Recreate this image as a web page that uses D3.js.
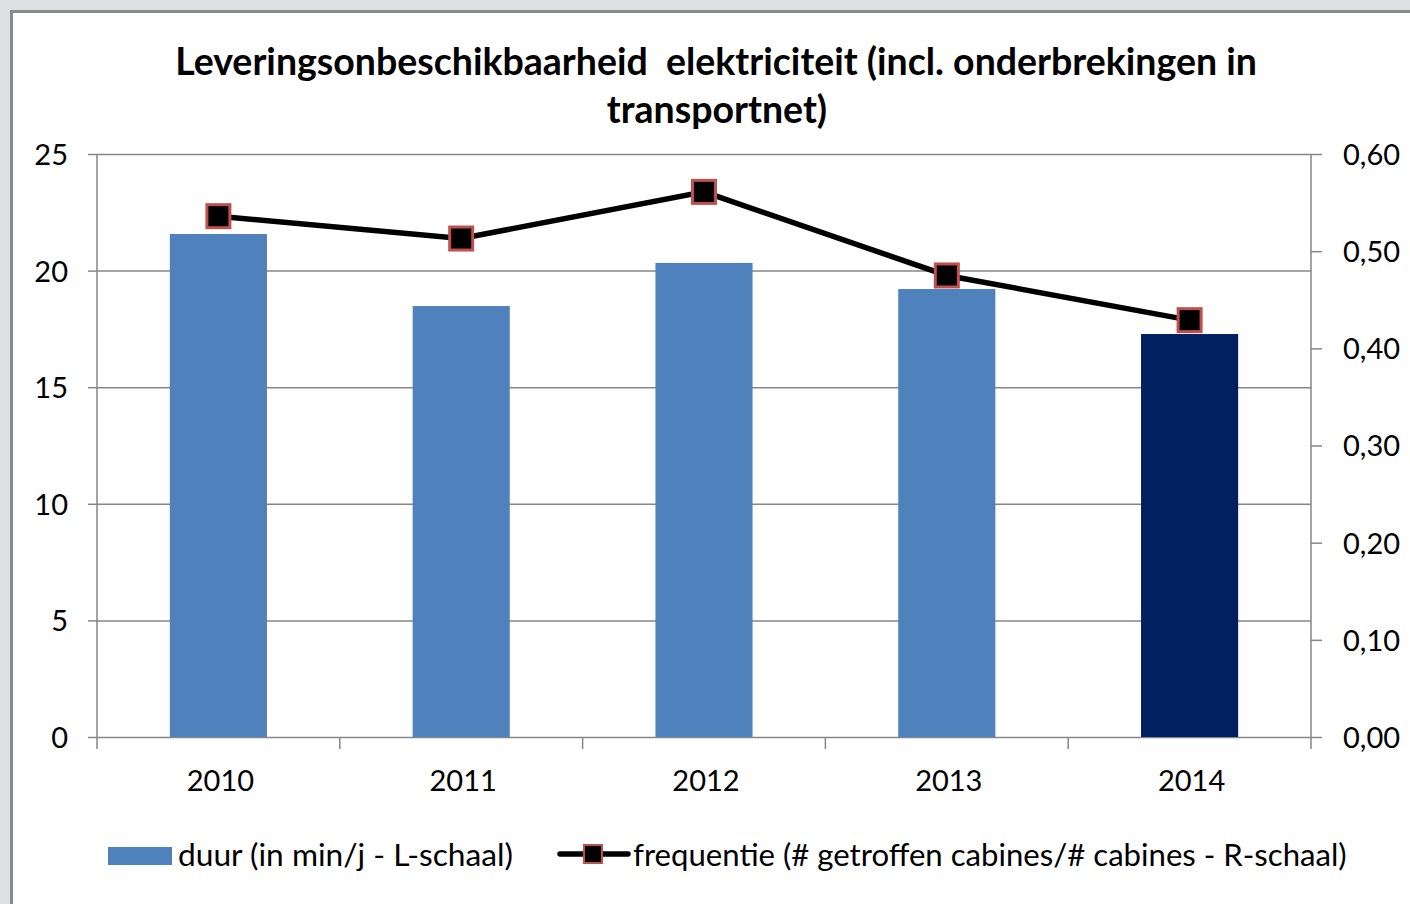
<!DOCTYPE html>
<html>
<head>
<meta charset="utf-8">
<script src="https://cdn.jsdelivr.net/npm/d3@7"></script>
<style>
  html, body { margin: 0; padding: 0; background: #dfe0e2; }
  svg { display: block; }
  text { font-family: Lato, "Open Sans", sans-serif; fill: #000; }
</style>
</head>
<body>
<div id="chart"></div>
<script>
// data
var years = ["2010", "2011", "2012", "2013", "2014"];
var duur = [21.57, 18.48, 20.33, 19.21, 17.28];
var frequentie = [0.536, 0.513, 0.561, 0.475, 0.429];
var leftTicks = [0, 5, 10, 15, 20, 25];
var rightTicks = [0, 0.1, 0.2, 0.3, 0.4, 0.5, 0.6];
var titleLines = ["Leveringsonbeschikbaarheid  elektriciteit (incl. onderbrekingen in", "transportnet)"];
var legendLabels = ["duur (in min/j - L-schaal)", "frequentie (# getroffen cabines/# cabines - R-schaal)"];

var W = 1410, H = 904;
var plot = { left: 97, right: 1311, top: 154, bottom: 737 };

var svg = d3.select("#chart").append("svg")
    .attr("width", W)
    .attr("height", H);

// panel
svg.append("rect")
    .attr("x", 11.5).attr("y", 11.5)
    .attr("width", W).attr("height", H)
    .attr("fill", "#fff")
    .attr("stroke", "#8a8a8a")
    .attr("stroke-width", 3);

// fit text to a measured width
function fit(sel, target) {
    var w = sel.node().getComputedTextLength();
    var fs = parseFloat(sel.attr("font-size"));
    sel.attr("font-size", fs * target / w);
}

// title
var t1 = svg.append("text")
    .attr("x", 716).attr("y", 75)
    .attr("text-anchor", "middle")
    .attr("font-weight", "bold")
    .attr("font-size", 30)
    .style("white-space", "pre")
    .text(titleLines[0]);
fit(t1, 1082);
var t2 = svg.append("text")
    .attr("x", 717).attr("y", 123)
    .attr("text-anchor", "middle")
    .attr("font-weight", "bold")
    .attr("font-size", t1.attr("font-size"))
    .text(titleLines[1]);

var x = d3.scaleBand()
    .domain(years)
    .range([plot.left, plot.right])
    .padding(0);

var yL = d3.scaleLinear()
    .domain([0, 25])
    .range([plot.bottom, plot.top]);

var yR = d3.scaleLinear()
    .domain([0, 0.6])
    .range([plot.bottom, plot.top]);

var gridColor = "#868686";

// gridlines
var grid = svg.append("g")
    .attr("transform", "translate(" + plot.left + ",0)")
    .call(d3.axisLeft(yL).tickValues(leftTicks).tickSize(-(plot.right - plot.left)).tickFormat(""));
grid.select(".domain").remove();
grid.selectAll("line").attr("stroke", gridColor).attr("stroke-width", 1.5);

// bars
var barW = x.bandwidth() * 0.4;
svg.append("g").selectAll("rect")
    .data(years)
    .enter().append("rect")
    .attr("x", function(d) { return x(d) + x.bandwidth() / 2 - barW / 2; })
    .attr("y", function(d, i) { return yL(duur[i]); })
    .attr("width", barW)
    .attr("height", function(d, i) { return yL(0) - yL(duur[i]); })
    .attr("fill", function(d, i) { return i === years.length - 1 ? "#002060" : "#4f81bd"; });

// left axis
var axL = svg.append("g")
    .attr("transform", "translate(" + plot.left + ",0)")
    .call(d3.axisLeft(yL).tickValues(leftTicks).tickSize(9).tickPadding(20));
axL.select(".domain").remove();
axL.selectAll("line").attr("stroke", gridColor).attr("stroke-width", 1.5);
axL.selectAll("text").attr("font-size", 29).attr("font-family", "Lato").attr("fill", "#000").attr("dy", "0.36em");

// right axis
var axR = svg.append("g")
    .attr("transform", "translate(" + plot.right + ",0)")
    .call(d3.axisRight(yR).tickValues(rightTicks).tickSize(11).tickPadding(21)
        .tickFormat(function(d) { return d3.format(".2f")(d).replace(".", ","); }));
axR.select(".domain").remove();
axR.selectAll("line").attr("stroke", gridColor).attr("stroke-width", 1.5);
axR.selectAll("text").attr("font-size", 29).attr("font-family", "Lato").attr("fill", "#000").attr("dy", "0.36em");

// axis lines
svg.append("line")
    .attr("x1", plot.left).attr("x2", plot.left)
    .attr("y1", plot.top).attr("y2", plot.bottom + 12)
    .attr("stroke", gridColor).attr("stroke-width", 1.5);
svg.append("line")
    .attr("x1", plot.right).attr("x2", plot.right)
    .attr("y1", plot.top).attr("y2", plot.bottom + 12)
    .attr("stroke", gridColor).attr("stroke-width", 1.5);

// category ticks at band edges
svg.append("g").selectAll("line")
    .data(years.slice(1))
    .enter().append("line")
    .attr("x1", function(d) { return x(d); })
    .attr("x2", function(d) { return x(d); })
    .attr("y1", plot.bottom).attr("y2", plot.bottom + 12)
    .attr("stroke", gridColor).attr("stroke-width", 1.5);

// category labels
svg.append("g").selectAll("text")
    .data(years)
    .enter().append("text")
    .attr("x", function(d) { return x(d) + x.bandwidth() / 2 + 2; })
    .attr("y", 791)
    .attr("text-anchor", "middle")
    .attr("font-size", 29)
    .text(function(d) { return d; });

// line series
var line = d3.line()
    .x(function(d, i) { return x(years[i]) + x.bandwidth() / 2; })
    .y(function(d) { return yR(d); });

svg.append("path")
    .datum(frequentie)
    .attr("d", line)
    .attr("fill", "none")
    .attr("stroke", "#000")
    .attr("stroke-width", 5.5);

svg.append("g").selectAll("rect")
    .data(frequentie)
    .enter().append("rect")
    .attr("x", function(d, i) { return x(years[i]) + x.bandwidth() / 2 - 11.5; })
    .attr("y", function(d) { return yR(d) - 11.5; })
    .attr("width", 23).attr("height", 23)
    .attr("fill", "#000")
    .attr("stroke", "#c0504d")
    .attr("stroke-width", 3);

// legend
svg.append("rect")
    .attr("x", 108).attr("y", 847)
    .attr("width", 64).attr("height", 18)
    .attr("fill", "#4f81bd");
var l1 = svg.append("text")
    .attr("x", 178).attr("y", 866)
    .attr("font-size", 29)
    .text(legendLabels[0]);
fit(l1, 335);

svg.append("line")
    .attr("x1", 560).attr("x2", 628)
    .attr("y1", 854).attr("y2", 854)
    .attr("stroke", "#000")
    .attr("stroke-width", 5.5)
    .attr("stroke-linecap", "round");
svg.append("rect")
    .attr("x", 584).attr("y", 845)
    .attr("width", 18).attr("height", 18)
    .attr("fill", "#000")
    .attr("stroke", "#c0504d")
    .attr("stroke-width", 2);
var l2 = svg.append("text")
    .attr("x", 633).attr("y", 866)
    .attr("font-size", 29)
    .text(legendLabels[1]);
fit(l2, 714);
</script>
</body>
</html>
